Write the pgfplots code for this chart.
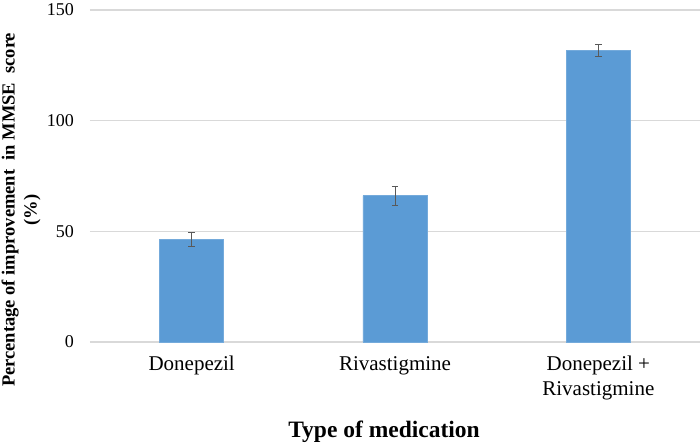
\documentclass[border=0pt]{standalone}
\usepackage{pgfplots}
\pgfplotsset{compat=1.18}
\usepackage{fontspec}
\setmainfont{Liberation Serif}
\definecolor{barblue}{HTML}{5B9BD5}
\definecolor{gridgray}{HTML}{D9D9D9}
\definecolor{errgray}{HTML}{595959}
\begin{document}
\begin{tikzpicture}
\begin{axis}[
  at={(0,0)}, anchor=south west,
  scale only axis, width=610bp, height=332bp,
  xmin=-0.5, xmax=2.5, ymin=0, ymax=150,
  axis line style={draw=none},
  tick style={draw=none},
  ymajorgrids, grid style={gridgray, line width=1.2bp},
  ytick={0,50,100,150},
  xtick={0,1,2},
  xticklabels={Donepezil, Rivastigmine, {Donepezil +\\Rivastigmine}},
  major tick length=0pt,
  /pgf/number format/assume math mode=true,
  yticklabel style={font=\fontsize{18bp}{21bp}\selectfont, anchor=east, inner sep=0pt, xshift=-16bp},
  xticklabel style={font=\fontsize{21bp}{25bp}\selectfont, align=center, anchor=north, inner sep=0pt, yshift=-14bp},
  ylabel={Percentage of improvement\ \ in MMSE\ \ score\\(\%)},
  ylabel style={font=\bfseries\fontsize{18.5bp}{22bp}\selectfont, align=center, at={(axis description cs:-0.113,0.398)}, anchor=center, rotate=0},
  xlabel={Type of medication},
  xlabel style={font=\bfseries\fontsize{23.5bp}{26bp}\selectfont, at={(axis description cs:0.482,-0.271)}, anchor=center},
  clip=false,
]
\addplot[ybar, bar width=0.315, fill=barblue, draw=barblue!85!white,
  error bars/.cd, y dir=both, y explicit,
  error bar style={errgray, line width=1bp},
  error mark options={rotate=90, mark size=3.2bp, errgray, line width=1bp}]
  coordinates {(0,46.3) +- (0,3.2) (1,66.1) +- (0,4.3) (2,131.9) +- (0,2.7)};
\end{axis}
\pgfresetboundingbox
\useasboundingbox (-90bp,-104bp) rectangle (610bp,342bp);
\end{tikzpicture}
\end{document}
